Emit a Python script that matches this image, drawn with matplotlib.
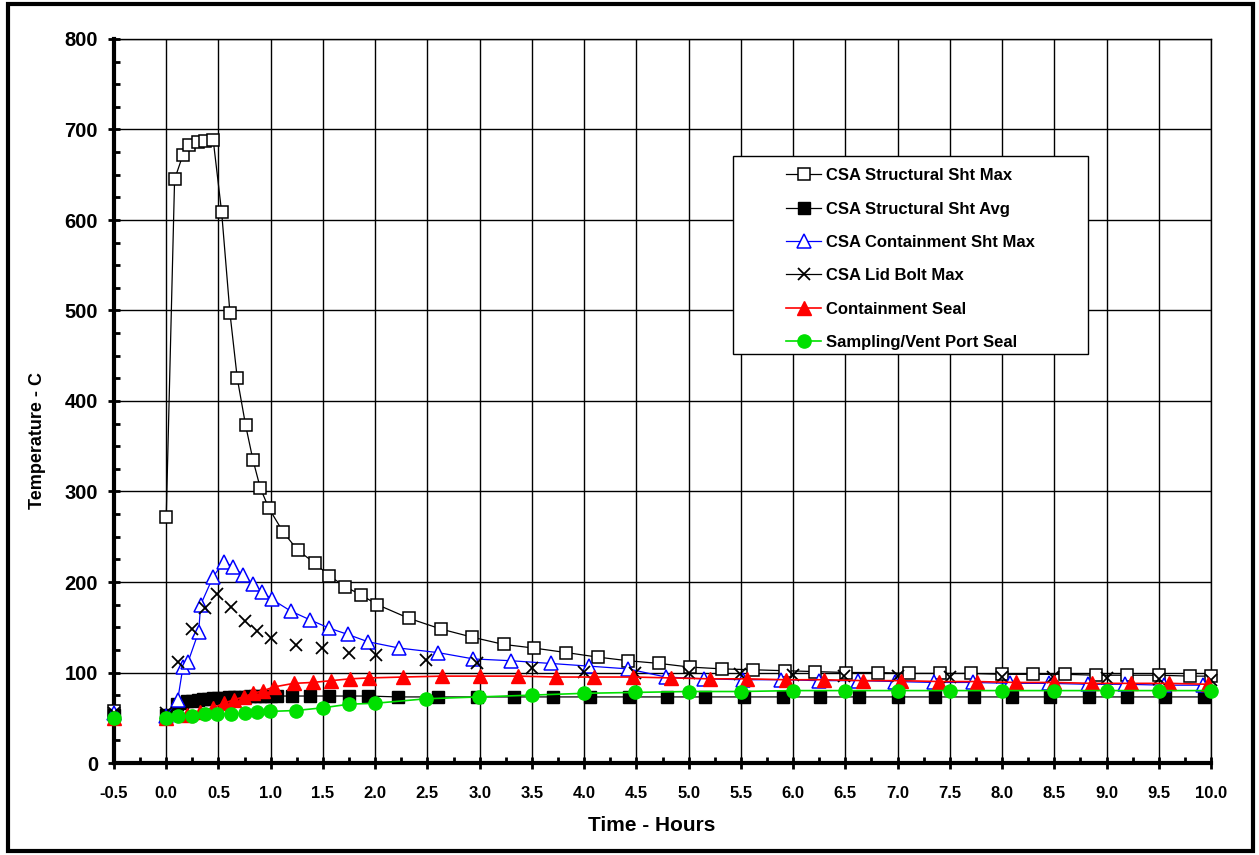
import numpy as np
import matplotlib.pyplot as plt
from matplotlib.patches import Rectangle
from matplotlib.lines import Line2D

plt.rcParams['font.family'] = ['Liberation Sans', 'DejaVu Sans']
plt.rcParams['font.weight'] = 'bold'

# pre-fire point at -0.5 h (plotted as isolated markers)
t_pre = -0.5
pre_vals = [57, 53, 55, 55, 50, 50]

# CSA Structural Sht Max
t_smax = [0.0, 0.08, 0.16, 0.22, 0.30, 0.37, 0.45, 0.53, 0.61, 0.68, 0.76, 0.83, 0.90,
          0.98, 1.12, 1.26, 1.42, 1.56, 1.71, 1.86, 2.02, 2.32, 2.63, 2.93, 3.23, 3.52,
          3.83, 4.13, 4.42, 4.72, 5.01, 5.32, 5.62, 5.92, 6.21, 6.51, 6.81, 7.11, 7.41,
          7.70, 8.00, 8.30, 8.60, 8.90, 9.20, 9.50, 9.80, 10.0]
v_smax = [272, 645, 672, 683, 686, 687, 688, 609, 497, 425, 373, 335, 304,
          282, 255, 235, 221, 207, 195, 186, 175, 160, 148, 139, 131, 127,
          122, 117, 113, 110, 106, 104, 103, 102, 101, 100, 100, 99, 99,
          99, 98, 98, 98, 97, 97, 97, 96, 96]

# CSA Structural Sht Avg
t_savg = [0.0, 0.10, 0.15, 0.20, 0.25, 0.30, 0.35, 0.40, 0.45, 0.50, 0.55, 0.60, 0.65,
          0.70, 0.75, 0.80, 0.85, 0.90, 0.95, 1.00, 1.06, 1.20, 1.38, 1.56, 1.75, 1.93,
          2.22, 2.60, 2.97, 3.33, 3.70, 4.06, 4.43, 4.79, 5.16, 5.53, 5.90, 6.26, 6.63,
          7.00, 7.36, 7.73, 8.10, 8.46, 8.83, 9.20, 9.56, 9.93]
v_savg = [53, 65, 66, 68, 69, 70, 70.5, 71, 71.5, 72, 72, 72.5, 72.5,
          73, 73, 73.5, 73.5, 74, 74, 74, 74, 74, 74, 74, 74, 74,
          73, 73, 73, 73, 73, 73, 73, 73, 73, 73, 73, 73, 73,
          73, 73, 73, 73, 73, 73, 73, 73, 73]

# CSA Containment Sht Max
t_cmax = [0.0, 0.11, 0.16, 0.21, 0.31, 0.33, 0.45, 0.55, 0.64, 0.73, 0.83, 0.92, 1.01,
          1.19, 1.38, 1.56, 1.74, 1.93, 2.23, 2.60, 2.94, 3.30, 3.68, 4.05, 4.42, 4.78,
          5.15, 5.52, 5.88, 6.25, 6.62, 6.98, 7.35, 7.72, 8.08, 8.45, 8.82, 9.18, 9.55, 9.92]
v_cmax = [52, 70, 106, 112, 145, 175, 206, 222, 217, 208, 198, 189, 181,
          168, 158, 149, 142, 134, 127, 122, 115, 113, 110, 107, 104, 95,
          93, 92, 92, 91, 91, 90, 89, 89, 88, 88, 87, 87, 86, 86]

# CSA Lid Bolt Max
t_bolt = [0.0, 0.11, 0.25, 0.37, 0.49, 0.62, 0.75, 0.87, 1.00, 1.24, 1.49, 1.75, 2.01,
          2.49, 2.97, 3.50, 4.00, 4.49, 5.00, 5.49, 6.00, 6.49, 7.00, 7.50, 8.00, 8.49,
          9.00, 9.50, 10.0]
v_bolt = [55, 112, 148, 171, 187, 172, 157, 146, 138, 130, 127, 122, 119,
          114, 110, 105, 101, 99, 99, 98, 97, 96, 96, 95, 95, 95,
          94, 93, 92]

# Containment Seal
t_seal = [0.0, 0.20, 0.32, 0.45, 0.55, 0.65, 0.74, 0.83, 0.93, 1.03, 1.22, 1.40, 1.58,
          1.76, 1.94, 2.27, 2.64, 3.00, 3.37, 3.73, 4.09, 4.47, 4.83, 5.20, 5.56, 5.93,
          6.30, 6.67, 7.03, 7.40, 7.76, 8.13, 8.50, 8.86, 9.23, 9.60, 9.97]
v_seal = [50, 53, 56, 61, 66, 70, 73, 77, 80, 84, 88, 89, 91,
          93, 94, 95, 96, 96, 96, 95, 95, 95, 94, 93, 93, 92,
          92, 91, 91, 90, 90, 89, 89, 88, 88, 88, 87]

# Sampling/Vent Port Seal
t_port = [0.0, 0.11, 0.25, 0.37, 0.49, 0.62, 0.75, 0.87, 0.99, 1.24, 1.50, 1.75, 2.00,
          2.49, 2.99, 3.50, 4.00, 4.49, 5.00, 5.50, 6.00, 6.50, 7.00, 7.50, 8.00, 8.50,
          9.00, 9.50, 10.0]
v_port = [50, 52, 52, 54, 54, 54, 55, 56, 57, 58, 61, 65, 66,
          71, 73, 75, 77, 78, 79, 79, 80, 80, 80, 80, 80, 80,
          80, 80, 80]

labels = ['CSA Structural Sht Max', 'CSA Structural Sht Avg', 'CSA Containment Sht Max',
          'CSA Lid Bolt Max', 'Containment Seal', 'Sampling/Vent Port Seal']

W, H = 1259, 855
fig = plt.figure(figsize=(W / 100, H / 100), dpi=100)
ax = fig.add_axes([114 / W, (H - 763) / H, (1211 - 114) / W, (763 - 39) / H])

ms = 9.0
styles = [
    dict(color='black', lw=0.9, marker='s', mfc='white', mec='black', ms=ms, mew=1.1),
    dict(color='black', lw=0.9, marker='s', mfc='black', mec='black', ms=ms, mew=1.0),
    dict(color='blue', lw=0.9, marker='^', mfc='white', mec='blue', ms=ms + 1, mew=1.1),
    dict(color='black', lw=0.9, marker='x', mfc='black', mec='black', ms=ms - 0.5, mew=1.3),
    dict(color='red', lw=1.2, marker='^', mfc='red', mec='red', ms=ms + 1.5, mew=1.0),
    dict(color='#00e000', lw=1.2, marker='o', mfc='#00e000', mec='#00e000', ms=ms + 0.5, mew=1.0),
]
series = [(t_smax, v_smax), (t_savg, v_savg), (t_cmax, v_cmax),
          (t_bolt, v_bolt), (t_seal, v_seal), (t_port, v_port)]

for i, ((t, v), st) in enumerate(zip(series, styles)):
    kw = dict(st)
    if i == 3:
        kw['ls'] = 'none'   # lid bolt shows markers only
    ax.plot(t, v, zorder=3 + i * 0.1, clip_on=False, **kw)
    ax.plot([t_pre], [pre_vals[i]], ls='none', zorder=3 + i * 0.1, clip_on=False,
            **{k: st[k] for k in ('marker', 'mfc', 'mec', 'ms', 'mew')})

ax.set_xlim(-0.5, 10.0)
ax.set_ylim(0, 800)
xt = np.arange(-0.5, 10.01, 0.5)
ax.set_xticks(xt)
ax.set_xticklabels(['%.1f' % x for x in xt])
ax.set_xticks(np.arange(-0.5, 10.01, 0.25), minor=True)
ax.set_yticks(np.arange(0, 801, 100))
ax.set_yticks(np.arange(0, 801, 25), minor=True)
ax.grid(True, which='major', color='black', lw=1.0)
ax.set_axisbelow(True)

for s in ['left', 'bottom']:
    ax.spines[s].set_linewidth(3.0)
for s in ['top', 'right']:
    ax.spines[s].set_linewidth(1.0)

ax.tick_params(axis='both', which='major', direction='inout', length=9, width=2.0)
ax.tick_params(axis='both', which='minor', direction='in', length=4, width=2.0)
ax.tick_params(axis='x', which='both', top=False)
ax.tick_params(axis='y', which='both', right=False)
ax.tick_params(axis='x', which='major', labelsize=12, pad=12)
ax.tick_params(axis='y', which='major', labelsize=14.5, pad=7)
for lab in ax.get_xticklabels() + ax.get_yticklabels():
    lab.set_fontweight('bold')

fig.text(652 / W, 1 - 825 / H, 'Time - Hours', ha='center', va='center',
         fontsize=15, fontweight='bold')
fig.text(37 / W, 1 - 440 / H, 'Temperature - C', ha='center', va='center',
         rotation=90, fontsize=13, fontweight='bold')

# legend box
box = Rectangle((733 / W, 1 - 354 / H), (1088 - 733) / W, (354 - 156) / H,
                transform=fig.transFigure, facecolor='white', edgecolor='black',
                lw=1.0, zorder=5, clip_on=False)
ax.add_patch(box)
handles = []
for i, st in enumerate(styles):
    handles.append(Line2D([], [], **st))
leg = ax.legend(handles, labels, loc='upper left',
                bbox_to_anchor=(778 / W, 1 - 160 / H), bbox_transform=fig.transFigure,
                frameon=False, borderpad=0, handlelength=2.1, handletextpad=0.3,
                labelspacing=1.1, numpoints=1, prop=dict(size=12, weight='bold'))
leg.set_zorder(6)

# outer figure border
fig.patches.append(Rectangle((8 / W, 1 - 851 / H), (1253 - 8) / W, (851 - 4.5) / H,
                             transform=fig.transFigure, fill=False, edgecolor='black',
                             lw=3.0, zorder=10))

fig.savefig('out.png', dpi=100)
